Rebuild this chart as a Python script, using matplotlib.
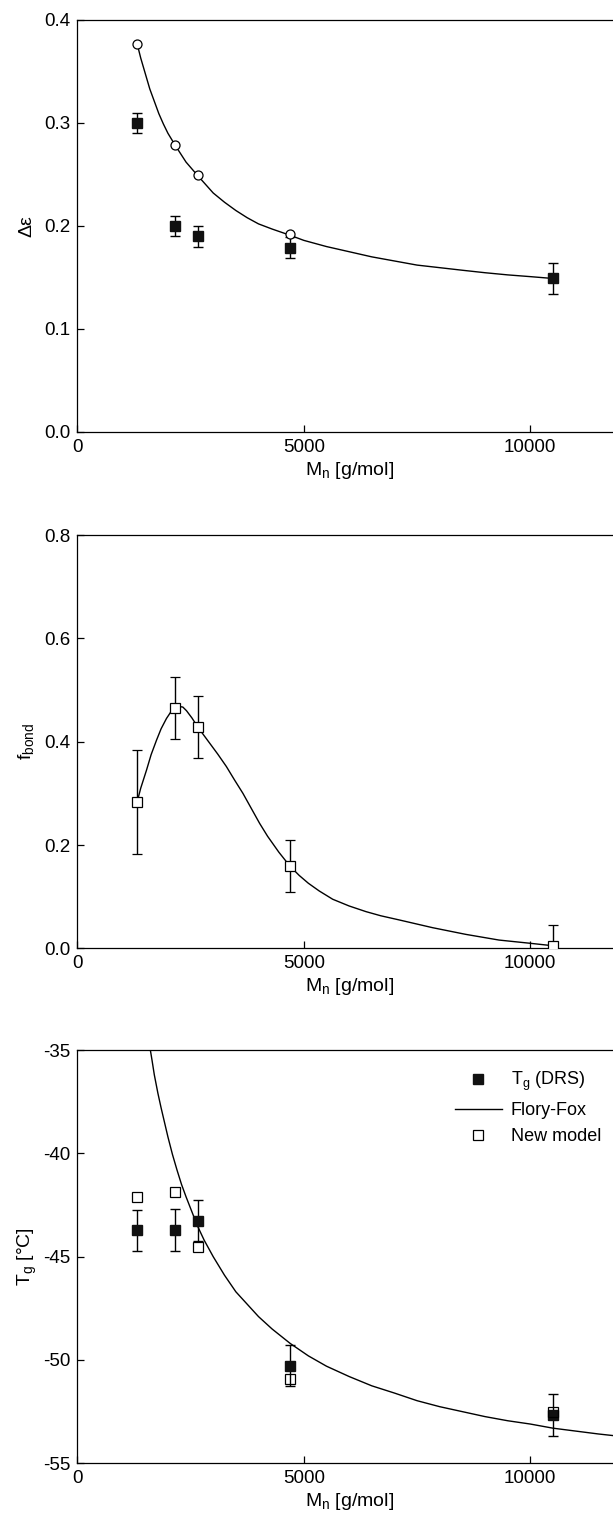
import matplotlib
matplotlib.use("Agg")
import matplotlib.pyplot as plt
from matplotlib.lines import Line2D

plt.rcParams['font.family'] = ['Liberation Sans', 'DejaVu Sans']
plt.rcParams['mathtext.default'] = 'regular'
plt.rcParams['axes.unicode_minus'] = False

# molecular weights of the samples
Mn = [1320, 2165, 2655, 4695, 10500]

# panel 1: delta epsilon
deps_meas = [0.300, 0.200, 0.190, 0.179, 0.149]
deps_err = [0.010, 0.010, 0.010, 0.010, 0.015]
deps_open_M = [1320, 2165, 2655, 4695]
deps_open = [0.377, 0.279, 0.249, 0.192]
deps_curve_M = [1320, 1400, 1500, 1600, 1700, 1800, 1900, 2000, 2165, 2400, 2655, 3000,
                3250, 3500, 3750, 4000, 4300, 4695, 5000, 5500, 6000, 6500, 7000, 7500,
                8000, 8500, 9000, 9500, 10000, 10500]
deps_curve = [0.377, 0.363, 0.348, 0.333, 0.321, 0.309, 0.299, 0.290, 0.278, 0.262, 0.249,
              0.232, 0.223, 0.215, 0.208, 0.202, 0.197, 0.191, 0.186, 0.180, 0.175, 0.170,
              0.166, 0.162, 0.1595, 0.157, 0.1546, 0.1525, 0.1508, 0.149]

# panel 2: f_bond
fbond = [0.283, 0.465, 0.429, 0.159, 0.005]
fbond_err = [0.10, 0.06, 0.06, 0.05, 0.04]
fbond_curve_M = [1320, 1400, 1528, 1630, 1749, 1850, 1969, 2060, 2165, 2260, 2330, 2410,
                 2530, 2655, 2780, 2923, 3100, 3290, 3470, 3656, 3840, 4024, 4200, 4450,
                 4695, 4900, 5100, 5341, 5638, 6000, 6374, 6700, 7104, 7841, 8577, 9310,
                 9971, 10500]
fbond_curve = [0.283, 0.310, 0.345, 0.375, 0.403, 0.425, 0.445, 0.457, 0.465, 0.468, 0.467,
               0.460, 0.446, 0.429, 0.414, 0.397, 0.376, 0.352, 0.326, 0.300, 0.271, 0.242,
               0.217, 0.186, 0.159, 0.141, 0.126, 0.111, 0.095, 0.082, 0.071, 0.063, 0.055,
               0.040, 0.027, 0.016, 0.010, 0.005]

# panel 3: Tg
tg_drs = [-43.72, -43.71, -43.26, -50.27, -52.66]
tg_err = [1.0, 1.0, 1.0, 1.0, 1.0]
tg_new = [-42.11, -41.88, -44.55, -50.93, -52.51]
ff_M = [1560, 1650, 1700, 1780, 1850, 2000, 2100, 2200, 2300, 2400, 2650, 2800, 3000,
        3250, 3500, 3750, 4000, 4300, 4700, 5100, 5500, 6000, 6500, 7000, 7500, 8000,
        8500, 9000, 9500, 10000, 10500, 11000, 11500, 12000]
ff_T = [-34.3, -35.5, -36.2, -37.1, -37.8, -39.2, -40.05, -40.8, -41.5, -42.1, -43.5,
        -44.2, -45.0, -45.9, -46.7, -47.3, -47.9, -48.5, -49.2, -49.8, -50.3, -50.8,
        -51.25, -51.6, -51.97, -52.26, -52.5, -52.74, -52.94, -53.1, -53.3, -53.44,
        -53.58, -53.7]

fig = plt.figure(figsize=(6.13, 15.2), dpi=100)
left = 0.1261
width = 0.8868
ax1 = fig.add_axes([left, 0.7158, width, 0.2711])
ax2 = fig.add_axes([left, 0.3761, width, 0.2719])
ax3 = fig.add_axes([left, 0.0373, width, 0.2719])

sq = dict(marker='s', ms=7.5, color='#111111', ls='none')
eb = dict(ecolor='black', elinewidth=1.0, capsize=3.5, capthick=1.0)

# panel 1
ax1.plot(deps_curve_M, deps_curve, color='black', lw=1.0)
ax1.errorbar(Mn, deps_meas, yerr=deps_err, **sq, **eb, zorder=3)
ax1.plot(deps_open_M, deps_open, 'o', ms=6.5, mfc='white', mec='black', mew=0.9, zorder=4)
ax1.set_ylim(0, 0.4)
ax1.set_yticks([0.0, 0.1, 0.2, 0.3, 0.4])
ax1.set_ylabel('Δε', fontsize=14, labelpad=6)

# panel 2
ax2.plot(fbond_curve_M, fbond_curve, color='black', lw=1.0)
ax2.errorbar(Mn, fbond, yerr=fbond_err, marker='s', ms=7, mfc='white', mec='black',
             mew=0.9, ls='none', **eb, zorder=3)
ax2.set_ylim(0, 0.8)
ax2.set_yticks([0.0, 0.2, 0.4, 0.6, 0.8])
ax2.set_ylabel('f$_{bond}$', fontsize=14, labelpad=6)

# panel 3
ax3.plot(ff_M, ff_T, color='black', lw=1.0)
ax3.errorbar(Mn, tg_drs, yerr=tg_err, **sq, **eb, zorder=3)
ax3.plot(Mn, tg_new, 's', ms=7, mfc='none', mec='black', mew=0.9, zorder=4)
ax3.set_ylim(-55, -35)
ax3.set_yticks([-55, -50, -45, -40, -35])
ax3.set_ylabel('T$_g$ [°C]', fontsize=14, labelpad=3)

handles = [Line2D([], [], marker='s', ms=7.5, color='#111111', ls='none'),
           Line2D([], [], color='black', lw=1.0),
           Line2D([], [], marker='s', ms=7, mfc='white', mec='black', mew=0.9, ls='none')]
ax3.legend(handles, ['T$_g$ (DRS)', 'Flory-Fox', 'New model'], loc='upper left',
           bbox_to_anchor=(0.742, 0.2962), bbox_transform=fig.transFigure,
           frameon=False, fontsize=13, handlelength=2.6, handletextpad=0.5,
           labelspacing=0.5, borderpad=0, borderaxespad=0)

for ax in (ax1, ax2, ax3):
    ax.set_xlim(0, 12000)
    ax.set_xticks([0, 5000, 10000])
    ax.set_xlabel('M$_n$ [g/mol]', fontsize=14, labelpad=3)
    ax.tick_params(direction='in', length=5, width=0.9, labelsize=13.5, pad=5,
                   top=False, right=False)
    for s in ax.spines.values():
        s.set_linewidth(0.9)

fig.savefig('out.png', dpi=100)
